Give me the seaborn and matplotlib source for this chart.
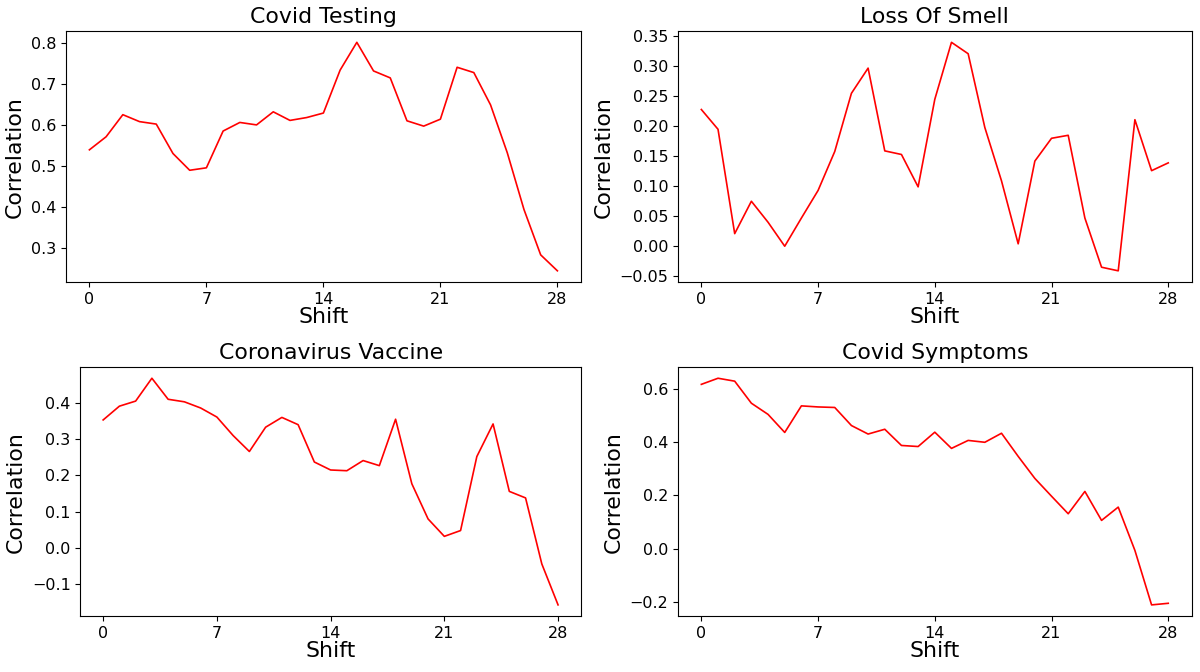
import matplotlib
matplotlib.use("Agg")
import matplotlib.pyplot as plt
from matplotlib.ticker import MultipleLocator
import seaborn as sns
import pandas as pd

# Shift in days
shift = list(range(29))

# Correlation per search term
covid_testing = [0.539, 0.571, 0.625, 0.608, 0.602, 0.530, 0.489, 0.495, 0.585, 0.606,
                 0.600, 0.632, 0.611, 0.618, 0.629, 0.734, 0.802, 0.732, 0.715, 0.610,
                 0.597, 0.614, 0.741, 0.728, 0.649, 0.532, 0.393, 0.282, 0.243]
loss_of_smell = [0.227, 0.194, 0.020, 0.074, 0.039, -0.001, 0.046, 0.092, 0.157, 0.254,
                 0.296, 0.158, 0.152, 0.098, 0.244, 0.339, 0.320, 0.197, 0.108, 0.003,
                 0.141, 0.179, 0.184, 0.046, -0.036, -0.042, 0.210, 0.125, 0.138]
coronavirus_vaccine = [0.353, 0.391, 0.405, 0.468, 0.410, 0.403, 0.386, 0.361, 0.310, 0.266,
                       0.333, 0.360, 0.340, 0.237, 0.215, 0.213, 0.241, 0.227, 0.355, 0.177,
                       0.080, 0.032, 0.048, 0.252, 0.342, 0.156, 0.138, -0.044, -0.157]
covid_symptoms = [0.618, 0.641, 0.630, 0.547, 0.505, 0.437, 0.537, 0.533, 0.531, 0.463,
                  0.431, 0.449, 0.388, 0.384, 0.438, 0.377, 0.407, 0.400, 0.434, 0.347,
                  0.264, 0.197, 0.131, 0.215, 0.106, 0.156, -0.007, -0.212, -0.206]

titles = ['Covid Testing', 'Loss Of Smell', 'Coronavirus Vaccine', 'Covid Symptoms']
series = [covid_testing, loss_of_smell, coronavirus_vaccine, covid_symptoms]

fig, axes = plt.subplots(2, 2, figsize=(12, 6.72), dpi=100)

# axes boxes in figure fractions [left, bottom, width, height]
boxes = [[0.055, 0.580, 0.429, 0.374],
         [0.565, 0.580, 0.428, 0.374],
         [0.067, 0.083, 0.417, 0.371],
         [0.565, 0.083, 0.428, 0.371]]

for ax, box, title, vals in zip(axes.flat, boxes, titles, series):
    ax.set_position(box)
    df = pd.DataFrame({'Shift': shift, 'Correlation': vals})
    sns.lineplot(data=df, x='Shift', y='Correlation', color='red', linewidth=1.2, ax=ax)
    ax.set_title(title, fontsize=15.8)
    ax.set_xlabel('Shift', fontsize=15.8, labelpad=0)
    ax.set_ylabel('Correlation', fontsize=15.8)
    ax.set_xticks([0, 7, 14, 21, 28])
    ax.tick_params(labelsize=11.5)

axes[0, 1].yaxis.set_major_locator(MultipleLocator(0.05))

fig.savefig('out.png')
